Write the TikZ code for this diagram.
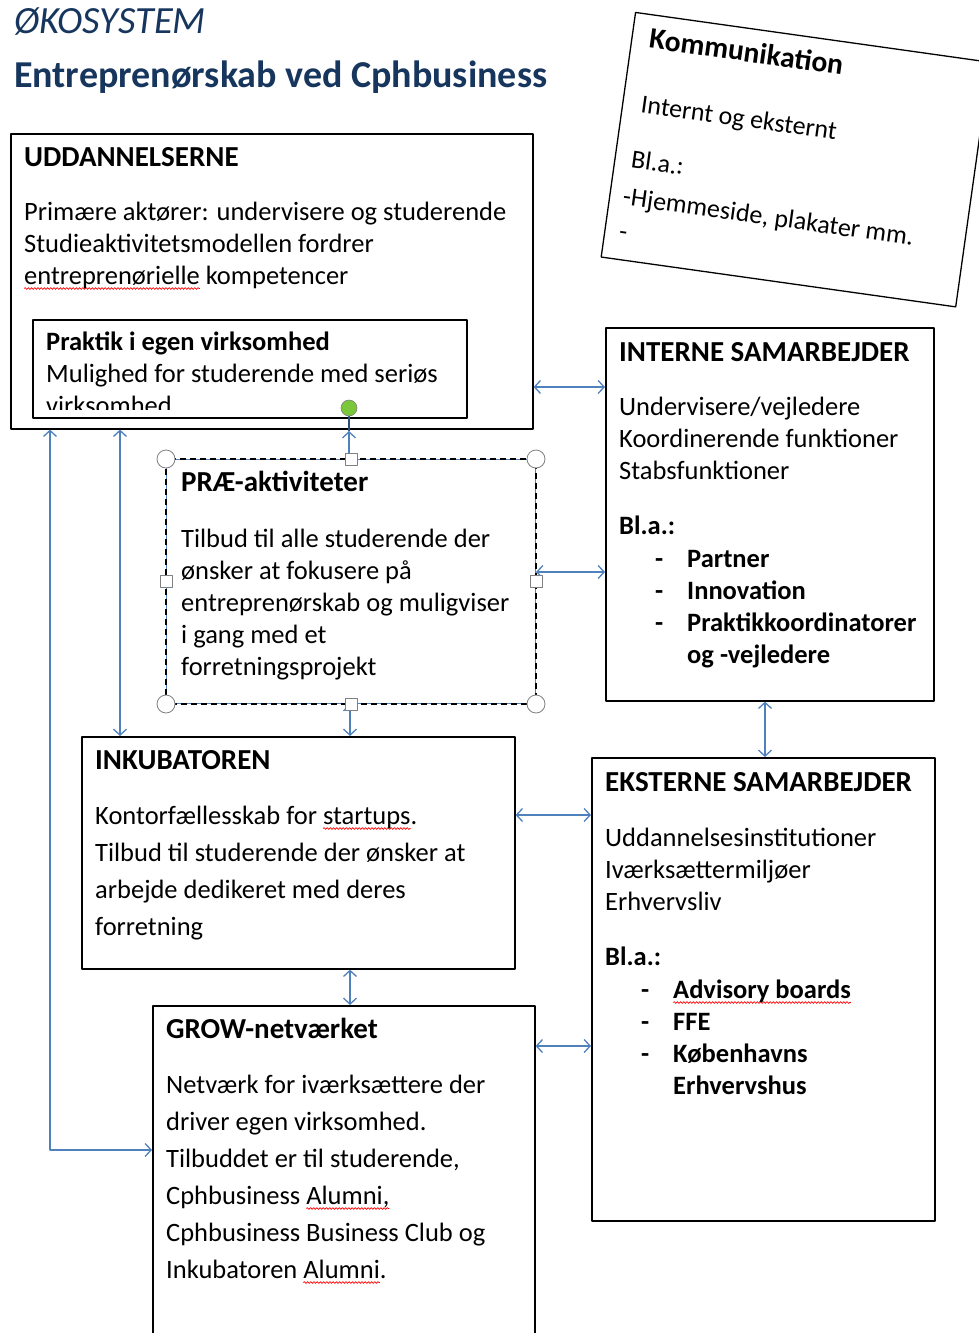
\documentclass[tikz,border=0pt]{standalone}
\usepackage{fontspec}
\setmainfont{Carlito}
\usepackage{xcolor}
\usetikzlibrary{arrows.meta,decorations.pathmorphing}

\definecolor{titleblue}{RGB}{23,54,93}
\definecolor{linkblue}{RGB}{79,129,189}
\definecolor{handlegreen}{RGB}{122,200,58}

% red spell-check squiggle under a word
\newlength\spellwd
\newcommand\spell[1]{\settowidth\spellwd{#1}\rlap{\tikz[overlay]\draw[red, line width=0.7pt, decorate, decoration={snake, amplitude=0.9pt, segment length=3.2pt}] (0pt,-4.5pt) -- (\spellwd,-4.5pt);}#1}
% lines of a text block, baseline on the first line
\newcommand\textlines[1]{\begin{tabular}[t]{@{}l@{}}#1\end{tabular}}

\tikzset{
  box/.style={draw=black, line width=1.6pt, rectangle, inner sep=0pt, anchor=north west},
  head/.style={font=\fontsize{29}{32}\selectfont\bfseries, anchor=base west, inner sep=0pt},
  body/.style={font=\fontsize{26.5}{32}\selectfont, anchor=base west, inner sep=0pt},
  boldbody/.style={body, font=\fontsize{26.5}{32.3}\selectfont\bfseries},
  widebody/.style={body, font=\fontsize{26.5}{37}\selectfont},
  link/.style={draw=linkblue, line width=1.3pt, {Straight Barb[length=6pt,width=13pt]}-{Straight Barb[length=6pt,width=13pt]}},
  linkone/.style={draw=linkblue, line width=1.3pt, -{Straight Barb[length=6pt,width=13pt]}},
  handle/.style={draw=gray, line width=0.8pt, fill=white},
}

\begin{document}
\begin{tikzpicture}[x=1pt, y=-1pt, line join=round]
    \useasboundingbox (0,0) rectangle (979,1333);

    % --- Title ---
    \node[anchor=base west, inner sep=0pt, text=titleblue, font=\fontsize{38.5}{40}\selectfont\itshape]
        (eco) at (14,33) {ØKOSYSTEM};
    \node[anchor=base west, inner sep=0pt, text=titleblue, font=\fontsize{38}{42}\selectfont\bfseries]
        (title) at (14,87) {Entreprenørskab ved Cphbusiness};

    % --- Kommunikation (tilted note) ---
    \begin{scope}[shift={(635,11.7)}, rotate=-8, transform shape]
        \node[box, line width=1.3pt, minimum width=358pt, minimum height=247pt] (komm) at (0,0) {};
        \node[head, font=\fontsize{29.5}{32}\selectfont\bfseries] (kommhead) at (18,34) {Kommunikation};
        \node[body, font=\fontsize{26}{32}\selectfont] (kommint) at (19,99) {Internt og eksternt};
        \node[body, font=\fontsize{26}{32}\selectfont] (kommbla) at (17,155) {Bl.a.:};
        \node[body, font=\fontsize{26}{32}\selectfont] (kommweb) at (14,193) {-Hjemmeside, plakater mm.};
        \node[body, font=\fontsize{26}{32}\selectfont] (kommdash) at (15,228) {-};
    \end{scope}

    % --- Uddannelserne ---
    \node[box, minimum width=522pt, minimum height=295pt] (udd) at (10,133) {};
    \node[head] (uddhead) at (24,166) {UDDANNELSERNE};
    \node[body] (uddtext) at (24,220) {\textlines{%
        Primære aktører: undervisere og studerende\\
        Studieaktivitetsmodellen fordrer\\
        \spell{entreprenørielle} kompetencer}};

    % --- Praktik (inside Uddannelserne) ---
    \node[box, minimum width=434pt, minimum height=98pt] (prak) at (32,319) {};
    \node[boldbody] (prakhead) at (46,350) {Praktik i egen virksomhed};
    \node[body] (praktext) at (46,382) {Mulighed for studerende med seriøs};
    \begin{scope}
        \clip (40,390) rectangle (460,409);
        \node[body] (prakcut) at (46,414) {virksomhed};
    \end{scope}

    % --- PRAE-aktiviteter (selected shape) ---
    \node[box, draw=linkblue, line width=1pt, minimum width=369pt, minimum height=244pt] (pre) at (166,459) {};
    \draw[line width=1.2pt, dash pattern=on 6pt off 4pt] (pre.north west) rectangle (pre.south east);
    \node[head] (prehead) at (181,491) {PRÆ-aktiviteter};
    \node[body] (pretext) at (181,547) {\textlines{%
        Tilbud til alle studerende der\\
        ønsker at fokusere på\\
        entreprenørskab og muligviser\\
        i gang med et\\
        forretningsprojekt}};

    % --- Interne samarbejder ---
    \node[box, minimum width=328pt, minimum height=373pt] (intern) at (605,327) {};
    \node[head] (internhead) at (619,361) {INTERNE SAMARBEJDER};
    \node[body] (interntext) at (619,415) {\textlines{%
        Undervisere/vejledere\\ Koordinerende funktioner\\ Stabsfunktioner}};
    \node[boldbody] (internbla) at (619,534) {Bl.a.:};
    \node[boldbody] (interndash) at (655,567) {\textlines{-\\-\\-}};
    \node[boldbody] (internlist) at (687,567) {\textlines{%
        Partner\\ Innovation\\ Praktikkoordinatorer\\ og -vejledere}};

    % --- Inkubatoren ---
    \node[box, minimum width=433pt, minimum height=232pt] (inkub) at (81,736) {};
    \node[head] (inkubhead) at (95,769) {INKUBATOREN};
    \node[widebody] (inkubtext) at (95,824) {\textlines{%
        Kontorfællesskab for \spell{startups}.\\
        Tilbud til studerende der ønsker at\\
        arbejde dedikeret med deres\\
        forretning}};

    % --- Eksterne samarbejder ---
    \node[box, minimum width=343pt, minimum height=463pt] (ekst) at (591,757) {};
    \node[head] (eksthead) at (605,791) {EKSTERNE SAMARBEJDER};
    \node[body] (eksttext) at (605,846) {\textlines{%
        Uddannelsesinstitutioner\\ Iværksættermiljøer\\ Erhvervsliv}};
    \node[boldbody] (ekstbla) at (605,965) {Bl.a.:};
    \node[boldbody] (ekstdash) at (641,998) {\textlines{-\\-\\-}};
    \node[boldbody] (ekstlist) at (673,998) {\textlines{%
        \spell{Advisory boards}\\ FFE\\ Københavns\\ Erhvervshus}};

    % --- GROW-netvaerket ---
    \node[box, minimum width=382pt, minimum height=340pt] (grow) at (152,1005) {};
    \node[head] (growhead) at (166,1038) {GROW-netværket};
    \node[widebody] (growtext) at (166,1093) {\textlines{%
        Netværk for iværksættere der\\
        driver egen virksomhed.\\
        Tilbuddet er til studerende,\\
        Cphbusiness \spell{Alumni,}\\
        Cphbusiness Business Club og\\
        Inkubatoren \spell{Alumni}.}};

    % --- Connectors ---
    \draw[link] (udd.east |- 0,387) -- (intern.west |- 0,387);
    \draw[link] (pre.east |- 0,572) -- (intern.west |- 0,572);
    \draw[link] (intern.south -| 765,0) -- (ekst.north -| 765,0);
    \draw[link] (inkub.east |- 0,815) -- (ekst.west |- 0,815);
    \draw[link] (grow.east |- 0,1046) -- (ekst.west |- 0,1046);
    \draw[link] (inkub.south -| 350,0) -- (grow.north -| 350,0);
    \draw[link] (pre.south -| 350,0) -- (inkub.north -| 350,0);
    \draw[link] (udd.south -| 120,0) -- (inkub.north -| 120,0);
    \draw[link] (udd.south -| 50,0) |- (grow.west |- 0,1150);

    % connector to Praktik with its green end handle
    \coordinate (dot) at (349,408);
    \draw[linkone] (pre.north -| 349,0) -- (349,431);
    \draw[line width=1.2pt, linkblue!60!black] (349,431) -- (dot);
    \fill[handlegreen, draw=gray, line width=0.6pt] (dot) circle (8pt);

    % --- Selection handles on PRAE box ---
    \foreach \c in {north west, north east, south west, south east}
        \draw[handle] (pre.\c) circle (9pt);
    \foreach \c in {north, south, west, east}
        \draw[handle] (pre.\c) ++(-6,-6) rectangle ++(12,12);

\end{tikzpicture}
\end{document}
